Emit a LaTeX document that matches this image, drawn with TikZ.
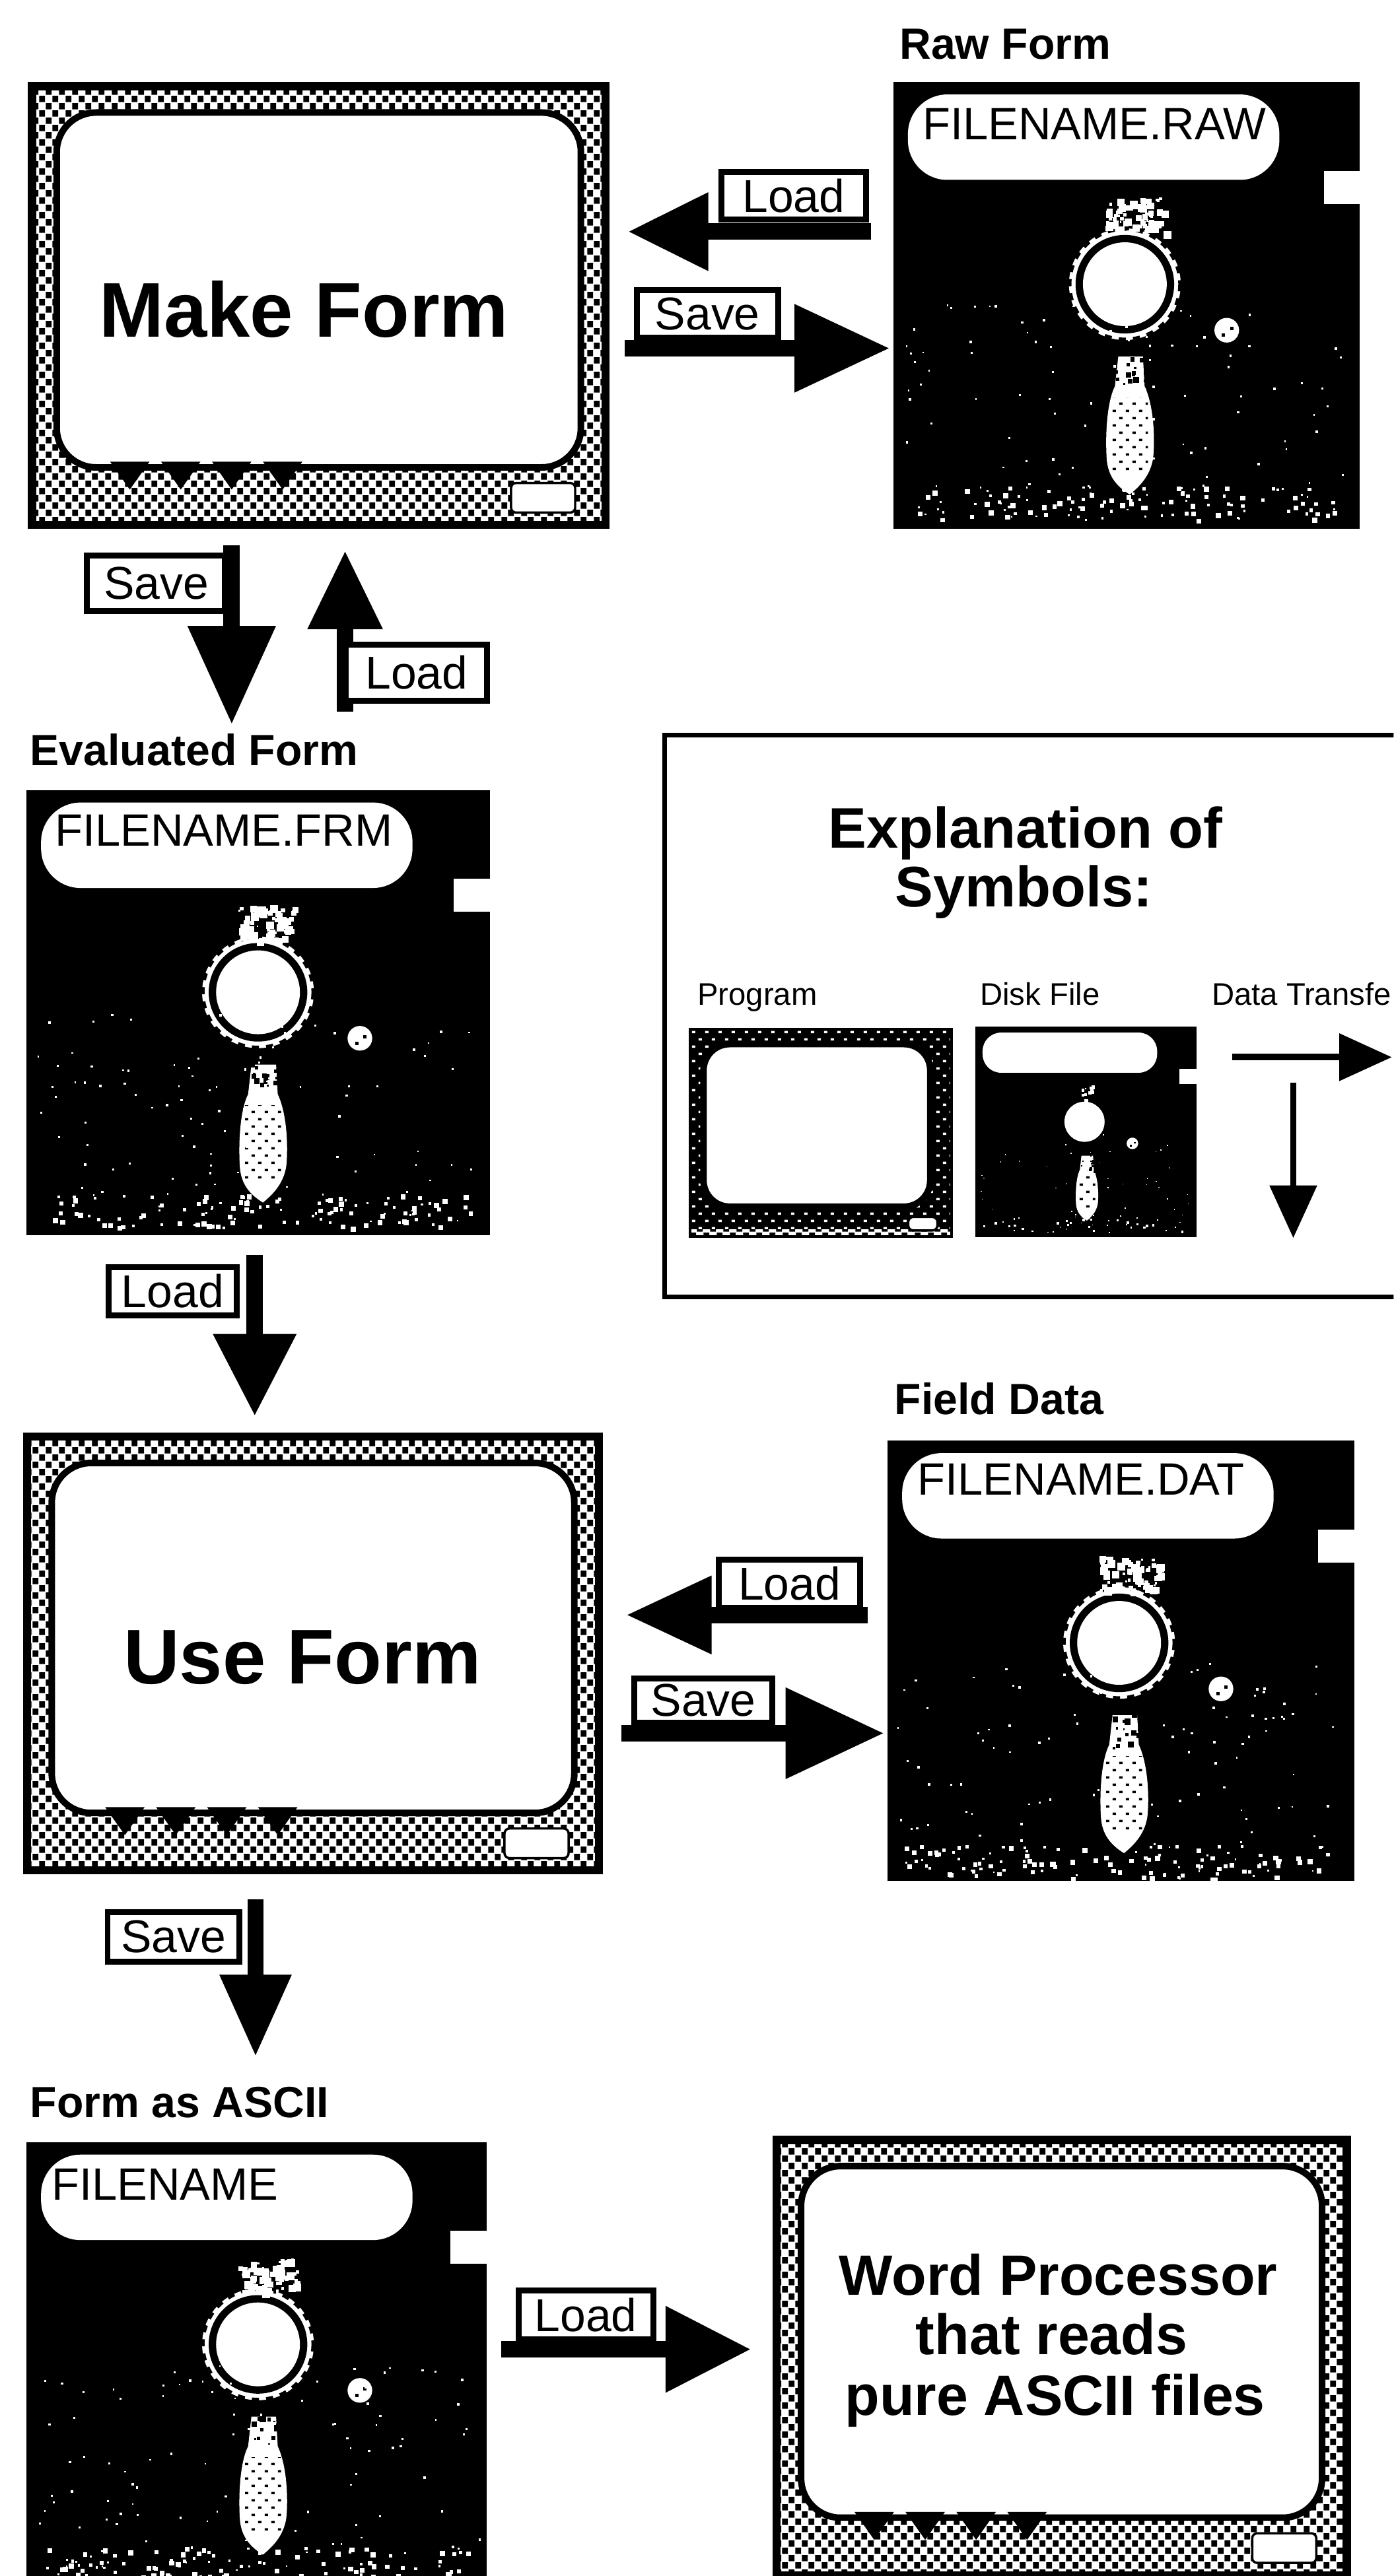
\documentclass[tikz,border=0pt]{standalone}
\usepackage{fontspec}
\setmainfont{Liberation Sans}
\usetikzlibrary{arrows.meta,calc,patterns}
\pgfdeclarepatternformonly{halftone}{\pgfqpoint{0pt}{0pt}}{\pgfqpoint{4pt}{4.4pt}}{\pgfqpoint{4pt}{4.4pt}}{
  \pgfpathrectangle{\pgfqpoint{0.1pt}{0.1pt}}{\pgfqpoint{1.75pt}{1.9pt}}
  \pgfpathrectangle{\pgfqpoint{2.1pt}{2.3pt}}{\pgfqpoint{1.75pt}{1.9pt}}
  \pgfusepath{fill}}
\pgfdeclarepatternformonly{slotdots}{\pgfqpoint{0pt}{0pt}}{\pgfqpoint{4pt}{4.4pt}}{\pgfqpoint{4pt}{4.4pt}}{
  \pgfpathrectangle{\pgfqpoint{0.6pt}{0.8pt}}{\pgfqpoint{1pt}{0.7pt}}
  \pgfpathrectangle{\pgfqpoint{2.6pt}{3pt}}{\pgfqpoint{1pt}{0.7pt}}
  \pgfusepath{fill}}
\tikzset{
  body/.style={rectangle,fill=black,inner sep=0pt,outer sep=0pt,anchor=north west},
  screen/.style={rectangle,draw=black,line width=2pt,fill=white,inner sep=0pt,outer sep=0pt,anchor=north west},
  fbox/.style={rectangle,fill=white,inner sep=0pt,outer sep=0pt,anchor=north west},
  tagbox/.style={rectangle,draw=black,line width=1.8pt,fill=white,inner sep=0pt,font=\fontsize{14}{16}\selectfont},
  flow/.style 2 args={line width=5pt,-{Triangle[length=#1,width=#2]}},
  thin/.style={line width=2pt,-{Triangle[length=16pt,width=14pt]}},
  title/.style={font=\fontsize{13.3}{15}\selectfont\bfseries,anchor=base west,inner sep=0pt},
  fname/.style={font=\fontsize{13.8}{15}\selectfont,anchor=base west,inner sep=0pt},
  bigtext/.style={font=\fontsize{23.6}{28}\selectfont\bfseries,anchor=base,inner sep=0pt},
  midtext/.style={font=\fontsize{17.3}{20}\selectfont\bfseries,anchor=base,inner sep=0pt},
  headtext/.style={font=\fontsize{17.4}{20}\selectfont\bfseries,anchor=base,inner sep=0pt},
  smalltext/.style={font=\fontsize{9.5}{11}\selectfont,anchor=base west,inner sep=0pt},
}
% #1 name, #2 x, #3 y, #4 width, #5 height, #6 scale
\newcommand\monitoricon[6]{%
  \begin{scope}[shift={(#2,#3)},scale=#6]
    \node[body,minimum width=#4*0.5pt,minimum height=#5*0.5pt] (#1) at (0,0) {};
    \ifdim#6pt=1pt
      \fill[white] (5,5) rectangle ($(#1.south east)+(-5,-5)$);
      \fill[pattern=halftone,pattern color=black] (5,5) rectangle ($(#1.south east)+(-5,-5)$);
      \node[screen,rounded corners=12pt,minimum width=(#4-35)*0.5pt,minimum height=(#5-56)*0.5pt] (#1scr) at (17.5,18.5) {};
      \foreach \nx in {62,93,124,155}{
        \fill[black] ($(#1.south west)+(\nx-12,-41)$) -- ($(#1.south west)+(\nx+12,-41)$) -- ($(#1.south west)+(\nx,-24)$) -- cycle;
      }
    \else
      \fill[pattern=slotdots,pattern color=white] (4,4) rectangle ($(#1.south east)+(-4,-4)$);
      \fill[white] (4,270) rectangle ($(#1.south east)+(-4,-4)$);
      \fill[pattern=halftone,pattern color=black] (4,270) rectangle ($(#1.south east)+(-4,-4)$);
      \node[screen,rounded corners=8pt,minimum width=(#4-23)*0.5pt,minimum height=(#5-29)*0.5pt] (#1scr) at (20,22) {};
    \fi
    \fill[white,draw=black,line width=0.7pt,rounded corners=1.5pt] ($(#1.south east)+(-60,-28)$) rectangle ($(#1.south east)+(-21,-10)$);
  \end{scope}}
% #1 name, #2 x, #3 y, #4 width, #5 height, #6 scale, #7 seed
\newcommand\diskicon[7]{%
  \begin{scope}[shift={(#2,#3)},scale=#6]
    \node[body,minimum width=#4*0.5pt,minimum height=#5*0.5pt] (#1) at (0,0) {};
    \node[fbox,rounded corners=12pt*#6,minimum width=226*#6*0.5pt,minimum height=52*#6*0.5pt] (#1lbl) at (9,7.5) {};
    \fill[white] ($(#1.north east)+(-22,54)$) rectangle ($(#1.north east)+(0.5,74)$);
    \pgfmathsetseed{#7}
    \ifdim#6pt=1pt
      % hub with toothed ring
      \fill[white] (141,123) circle [radius=34];
      \draw[black,line width=1.5pt,dash pattern=on 2.2pt off 2.2pt] (141,123) circle [radius=34];
      \fill[black] (141,123) circle [radius=30];
      \fill[white] (141,123) circle [radius=25.5];
      \foreach \i in {1,...,70}{
        \pgfmathsetmacro\rx{129+rnd*36}\pgfmathsetmacro\ry{70+rnd*21}\pgfmathsetmacro\rs{1+rnd*4}
        \fill[white] (\rx,\ry) rectangle +(\rs,\rs);
      }
      \def\nfine{90}\def\ncoarse{120}
    \else
      \fill[white] (141,123) circle [radius=26];
      \foreach \i in {1,...,12}{
        \pgfmathsetmacro\rx{130+rnd*24}\pgfmathsetmacro\ry{76+rnd*18}\pgfmathsetmacro\rs{2+rnd*3}
        \fill[white] (\rx,\ry) rectangle +(\rs,\rs);
      }
      \def\nfine{40}\def\ncoarse{45}
    \fi
    % slot
    \path[fill=white] (137,167) -- (152,167) -- (153,185) .. controls (160,200) and (159,225) .. (158,230) .. controls (156,240) and (150,246) .. (144,251) .. controls (136,246) and (131,240) .. (130,230) .. controls (129,215) and (130,195) .. (135,185) -- cycle;
    \path[pattern=slotdots,pattern color=black] (133,192) -- (155,192) -- (155,238) -- (133,238) -- cycle;
    \foreach \i in {1,...,14}{
      \pgfmathsetmacro\rx{134+rnd*20}\pgfmathsetmacro\ry{165+rnd*22}\pgfmathsetmacro\rs{1+rnd*3}
      \fill[black] (\rx,\ry) rectangle +(\rs,\rs);
    }
    % index hole
    \fill[white] (203,151) circle [radius=7.5];
    \fill[black] (200,153) rectangle +(2,2);
    \fill[black] (205,149) rectangle +(2,2);
    % noise
    \foreach \i in {1,...,\nfine}{
      \pgfmathsetmacro\rx{6+rnd*270}\pgfmathsetmacro\ry{135+rnd*112}\pgfmathsetmacro\rs{0.9+rnd*0.7}
      \fill[white] (\rx,\ry) rectangle +(\rs,\rs);
    }
    \foreach \i in {1,...,\ncoarse}{
      \pgfmathsetmacro\rx{10+rnd*260}\pgfmathsetmacro\ry{246+rnd*20}\pgfmathsetmacro\rs{0.9+rnd*2.4}
      \fill[white] (\rx,\ry) rectangle +(\rs,\rs);
    }
  \end{scope}}
\begin{document}
\begin{tikzpicture}[x=0.5pt,y=-0.5pt]
  \useasboundingbox (0,0) rectangle (848,1568);
  \clip (0,0) rectangle (848,1568);
  \fill[white] (0,0) rectangle (848,1568);

  % icons
  \monitoricon{mone}{17}{50}{354}{272}{1}
  \diskicon{done}{543.5}{50}{284}{272}{1}{11}
  \diskicon{dtwo}{16}{481}{282}{271}{1}{22}
  \monitoricon{mtwo}{14}{872}{353}{269}{1}
  \diskicon{dthree}{540}{877}{284}{268}{1}{33}
  \diskicon{dfour}{16}{1304}{280}{266}{1}{44}
  \monitoricon{mthree}{470}{1300}{352}{270}{1}

  % titles
  \node[title] (traw) at (547,36) {Raw Form};
  \node[title] (teval) at (18,466) {Evaluated Form};
  \node[title] (tfield) at (544,861) {Field Data};
  \node[title] (tascii) at (18,1289) {Form as ASCII};

  % file names
  \node[fname] (fraw) at (561,85) {FILENAME.RAW};
  \node[fname] (ffrm) at (33,515) {FILENAME.FRM};
  \node[fname] (fdat) at (558,910) {FILENAME.DAT};
  \node[fname] (fasc) at (31,1339) {FILENAME};

  % program names
  \node[bigtext] (make) at (185,205) {Make Form};
  \node[bigtext] (use) at (184,1025) {Use Form};
  \node[midtext] (wp) at (644,1397) {Word Processor};
  \node[midtext] (wp2) at (640,1433) {that reads};
  \node[midtext] (wp3) at (642,1470) {pure ASCII files};

  % connectors
  \draw[flow={24.5pt}{22.5pt}] ($(done.west)+(-13.5,-45)$) -- ($(mone.east)+(11,-45)$);
  \draw[flow={29pt}{25.5pt}] ($(mone.east)+(9,26)$) -- ($(done.west)+(-2,26)$);
  \draw[flow={30pt}{25.5pt}] ($(mone.south)+(-53,10)$) -- ($(dtwo.north)+(-16,-40)$);
  \draw[flow={24pt}{21.5pt}] ($(dtwo.north)+(53,-48)$) -- ($(mone.south)+(16,13)$);
  \draw[flow={25pt}{24pt}] ($(dtwo.south)+(-2,12)$) -- ($(mtwo.north)+(-35.5,-10)$);
  \draw[flow={26pt}{22.5pt}] ($(dthree.west)+(-12,-28)$) -- ($(mtwo.east)+(14,-23.5)$);
  \draw[flow={30pt}{26.5pt}] ($(mtwo.east)+(11,48.5)$) -- ($(dthree.west)+(-2,44)$);
  \draw[flow={25pt}{20.5pt}] ($(mtwo.south)+(-35,15)$) -- ($(dfour.north)+(-0.5,-52)$);
  \draw[flow={26pt}{25pt}] ($(dfour.east)+(9,-7)$) -- ($(mthree.west)+(-13,-5)$);

  % arrow tags
  \node[tagbox,minimum width=44pt,minimum height=14.5pt] (la) at (483,119) {Load};
  \node[tagbox,minimum width=43pt,minimum height=14.5pt] (sa) at (430.5,191) {Save};
  \node[tagbox,minimum width=42pt,minimum height=17pt] (sb) at (95,355) {Save};
  \node[tagbox,minimum width=43pt,minimum height=17pt] (lb) at (253.5,409.5) {Load};
  \node[tagbox,minimum width=39pt,minimum height=14.5pt] (lc) at (105,786) {Load};
  \node[tagbox,minimum width=43pt,minimum height=14.5pt] (ld) at (480.5,964) {Load};
  \node[tagbox,minimum width=42pt,minimum height=13.5pt] (sd) at (428,1035) {Save};
  \node[tagbox,minimum width=40pt,minimum height=15pt] (se) at (105.5,1179) {Save};
  \node[tagbox,minimum width=41pt,minimum height=15pt] (le) at (356.5,1409) {Load};

  % legend
  \node[draw=black,line width=1.5pt,rectangle,inner sep=0pt,anchor=north west,minimum width=240pt,minimum height=171pt] (legend) at (403,446) {};
  \node[headtext] (ha) at (624,516) {Explanation of};
  \node[headtext] (hb) at (623,552) {Symbols:};
  \node[smalltext] (lp) at (424,612) {Program};
  \node[smalltext] (ld2) at (596,612) {Disk File};
  \node[smalltext] (ldt) at (737,612) {Data Transfe};
  \monitoricon{msmall}{419}{625.5}{161}{128}{0.455}
  \diskicon{dsmall}{593.7}{625}{134.5}{128}{0.47}{55}
  \coordinate (hs) at (750,643.5);
  \coordinate (he) at (847,643.5);
  \coordinate (vs) at (787,659);
  \coordinate (ve) at (787,753.6);
  \draw[thin] (hs) -- (he);
  \draw[thin] (vs) -- (ve);
\end{tikzpicture}
\end{document}
